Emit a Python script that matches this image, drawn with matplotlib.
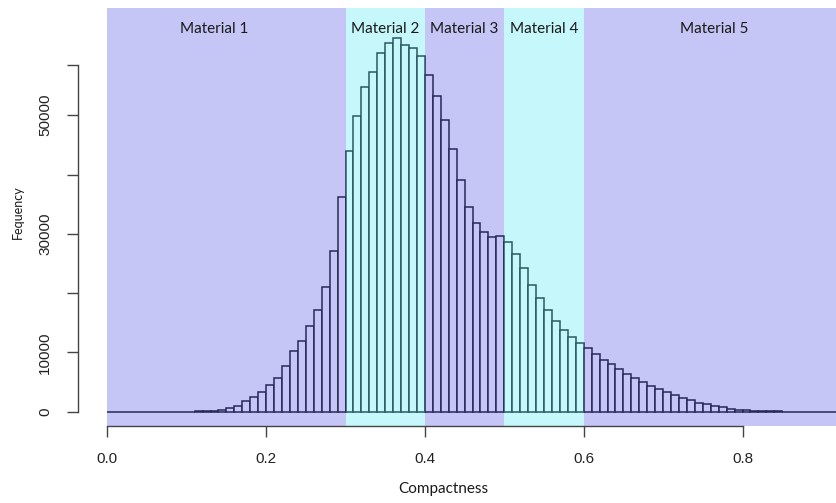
import numpy as np
import matplotlib.pyplot as plt

# histogram counts, one per 0.01 wide bin starting at 0.0
bin_width = 0.01
counts = [
    0, 0, 0, 0, 0, 1, 2, 4, 8, 14,
    25, 45, 90, 170, 340, 600, 1040, 1750, 2420, 3260,
    4560, 5760, 7730, 10230, 12000, 14500, 17180, 21050, 27150, 36200,
    44000, 49800, 54700, 57330, 60440, 62170, 63070, 61840, 61390, 59930,
    56850, 53190, 49240, 44300, 39020, 34470, 31870, 30250, 29410, 29680,
    28700, 26620, 24280, 21310, 19220, 17090, 15350, 13830, 12650, 11580,
    10710, 9730, 8770, 7980, 7200, 6410, 5680, 5000, 4380, 3770,
    3260, 2750, 2300, 1910, 1520, 1290, 960, 730, 510, 340,
    280, 170, 120, 80, 50, 30, 20, 12, 7, 4,
    2, 1,
]
bin_edges = np.arange(len(counts) + 1) * bin_width

materials = ['Material 1', 'Material 2', 'Material 3', 'Material 4', 'Material 5']
material_bounds = [0.0, 0.3, 0.4, 0.5, 0.6, 0.919]
material_label_x = [0.134, 0.35, 0.45, 0.55, 0.764]
material_colors = ['#6868EA', '#68ECF7', '#6868EA', '#68ECF7', '#6868EA']

x_ticks = [0.0, 0.2, 0.4, 0.6, 0.8]
x_tick_labels = ['0.0', '0.2', '0.4', '0.6', '0.8']
y_ticks = [0, 10000, 20000, 30000, 40000, 50000, 58400]
y_tick_labels = ['0', '10000', '', '30000', '', '50000', '']

fig = plt.figure(figsize=(8.37, 5.03), dpi=100)
ax = fig.add_axes([0.1282, 0.1531, 0.8718, 0.8304])

ax.bar(bin_edges[:-1], counts, width=bin_width, align='edge',
       facecolor='white', edgecolor='black', linewidth=1.1, zorder=2)

# translucent coloured bands laid over the histogram
for lo, hi, c in zip(material_bounds[:-1], material_bounds[1:], material_colors):
    ax.axvspan(lo, hi, color=c, alpha=0.385, lw=0, zorder=3)

for name, x in zip(materials, material_label_x):
    ax.text(x, 0.95, name, transform=ax.get_xaxis_transform(),
            ha='center', va='center', fontsize=11, family='Lato',
            color='#1a1a1a', zorder=5)

ax.set_xlim(0, 0.919)
ax.set_ylim(-2410, 68030)

for s in ['top', 'right']:
    ax.spines[s].set_visible(False)
ax.spines['left'].set_position(('outward', 20.9))
ax.spines['left'].set_bounds(0, 58400)
ax.spines['bottom'].set_bounds(0, 0.8)
for s in ['left', 'bottom']:
    ax.spines[s].set_color('#444444')
    ax.spines[s].set_linewidth(1.0)
    ax.spines[s].set_zorder(4)

ax.set_xticks(x_ticks)
ax.set_xticklabels(x_tick_labels, family='Liberation Sans', fontsize=11)
ax.set_yticks(y_ticks)
ax.set_yticklabels(y_tick_labels, family='Liberation Sans', fontsize=11,
                   rotation=90, va='center')
ax.tick_params(axis='both', length=7.8, width=1.0, color='#444444',
               labelcolor='#222222', pad=11)

fig.text(18 / 837, 1 - 212 / 503, 'Fequency', rotation=90, ha='center',
         va='center', family='Lato', fontsize=9, color='#1a1a1a')
fig.text(443 / 837, 1 - 489 / 503, 'Compactness', ha='center', va='center',
         family='Lato', fontsize=11, color='#1a1a1a')

fig.savefig('out.png', dpi=100)
